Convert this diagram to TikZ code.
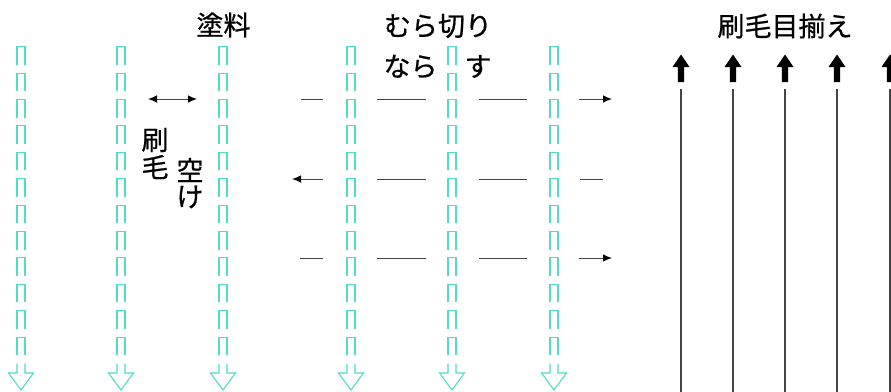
\documentclass[tikz,border=0pt]{standalone}
\usepackage{fontspec}
\newfontfamily\jp[FakeBold=0.7]{Noto Sans CJK JP}
\usetikzlibrary{arrows.meta}
\definecolor{paint}{RGB}{80,220,198}
\definecolor{stroke}{RGB}{70,70,70}
\tikzset{
  jplabel/.style={font=\jp\fontsize{27}{27}\selectfont, inner sep=0pt, anchor=center},
  dashseg/.style={draw=paint, line width=1.1pt, line join=miter},
  pass/.style={draw=stroke, line width=1pt},
  tipstyle/.style={-{Latex[length=9pt,width=7.5pt,color=black]}},
  passarrow/.style={pass, tipstyle},
  botharrow/.style={pass, {Latex[length=9pt,width=7.5pt,color=black]}-{Latex[length=9pt,width=7.5pt,color=black]}},
  grain/.style={draw=stroke, line width=1.1pt},
}
\begin{document}
\begin{tikzpicture}[x=1pt,y=-1pt]
\useasboundingbox (0,0) rectangle (891,391);
\clip (0,0) rectangle (891,391);

% paint stroke columns: open dashes with a hollow arrowhead
\foreach \cx in {21,121,223,351,452,554}{
  \foreach \k in {0,...,11}{
    \draw[dashseg] (\cx-4,46.7+\k*26.4+18) -- ++(0,-18) -- ++(8,0) -- ++(0,18);
  }
  \draw[dashseg] (\cx-4,363.5) -- (\cx-4,373) -- (\cx-12.5,373) -- (\cx,390)
                 -- (\cx+12.5,373) -- (\cx+4,373) -- (\cx+4,363.5);
}

% headings
\node[jplabel] (paint) at (223.5,25) {塗料};
\node[jplabel] (level1) at (438,26) {むら切り};
\node[jplabel] (level2) at (437.5,66.5) {なら　す};
\node[jplabel] (finish) at (785,26) {刷毛目揃え};

% brush width and spacing
\coordinate (wl) at (148,99);
\coordinate (wr) at (197,99);
\draw[botharrow] (wl) -- (wr);
\node[jplabel] (brush1) at (155,140) {刷};
\node[jplabel] (brush2) at (155,167) {毛};
\node[jplabel] (gap1) at (190,170) {空};
\node[jplabel] (gap2) at (190,197) {け};

% levelling passes
\foreach \yy in {99,179,258}{
  \draw[pass] (377,\yy) -- (426,\yy);
  \draw[pass] (479,\yy) -- (527,\yy);
}
\draw[pass] (301,99) -- (323,99);
\coordinate (r1a) at (579,99);
\coordinate (r1b) at (612,99);
\draw[passarrow] (r1a) -- (r1b);

\coordinate (r2a) at (323,179);
\coordinate (r2b) at (292,179);
\draw[passarrow] (r2a) -- (r2b);
\draw[pass] (580,179) -- (603,179);

\draw[pass] (300,258) -- (323,258);
\coordinate (r3a) at (579,258);
\coordinate (r3b) at (612,258);
\draw[passarrow] (r3a) -- (r3b);

% finishing strokes: solid arrows over long lines
\foreach \cx in {681,733,785,837,890}{
  \fill[black] (\cx-3.2,82) -- (\cx-3.2,67) -- (\cx-8.5,67) -- (\cx,54.5)
               -- (\cx+8.5,67) -- (\cx+3.2,67) -- (\cx+3.2,82) -- cycle;
  \draw[grain] (\cx,89) -- (\cx,395);
}
\end{tikzpicture}
\end{document}
